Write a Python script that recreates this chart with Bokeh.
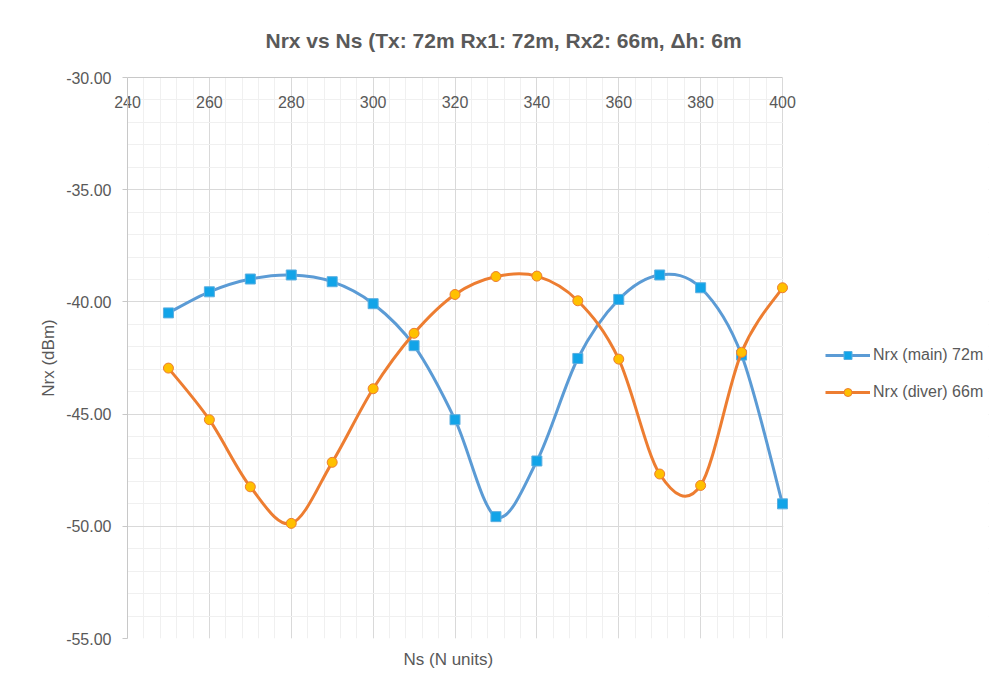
from bokeh.plotting import figure
from bokeh.models import (FixedTicker, Range1d, Legend, LegendItem,
                          Title, NumeralTickFormatter, ColumnDataSource,
                          BoxAnnotation)
from bokeh.embed import file_html
from bokeh.resources import INLINE

# ---- data ----
ns = [250, 260, 270, 280, 290, 300, 310, 320, 330, 340, 350, 360, 370, 380, 390, 400]
nrx_main = [-40.49, -39.55, -38.98, -38.80, -39.10, -40.08, -41.95, -45.25,
            -49.57, -47.09, -42.52, -39.89, -38.80, -39.37, -42.37, -49.00]
nrx_diver = [-42.95, -45.25, -48.24, -49.87, -47.15, -43.87, -41.40, -39.67,
             -38.87, -38.85, -39.95, -42.55, -47.67, -48.18, -42.25, -39.37]
x_ticks = [240, 260, 280, 300, 320, 340, 360, 380, 400]
y_ticks = [-55, -50, -45, -40, -35, -30]
x_min, x_max = 240, 400
y_min, y_max = -55, -30
title_text = "Nrx vs Ns (Tx: 72m Rx1: 72m, Rx2: 66m, \u0394h: 6m"
x_title = "Ns (N units)"
y_title = "Nrx (dBm)"
label_main = "Nrx (main) 72m"
label_diver = "Nrx (diver) 66m"

FONT = "Liberation Sans"
GRAY = "#595959"

# layout (pixels)
W, H = 990, 684
LEFT, TOP, BOTTOM = 127, 77, 46
PLOT_W = 655  # width of the 240..400 plot area
FRAME_W = W - LEFT - 2
x_view_end = x_min + (x_max - x_min) * FRAME_W / PLOT_W  # room for legend


def smooth_segments(xs, ys):
    """Bezier control points for Excel-style smoothed line (Catmull-Rom)."""
    n = len(xs)
    d = dict(x0=[], y0=[], x1=[], y1=[], cx0=[], cy0=[], cx1=[], cy1=[])
    for i in range(n - 1):
        pm = i - 1 if i > 0 else i
        pp = i + 2 if i + 2 < n else i + 1
        d["x0"].append(xs[i]); d["y0"].append(ys[i])
        d["x1"].append(xs[i + 1]); d["y1"].append(ys[i + 1])
        d["cx0"].append(xs[i] + (xs[i + 1] - xs[pm]) / 6.0)
        d["cy0"].append(ys[i] + (ys[i + 1] - ys[pm]) / 6.0)
        d["cx1"].append(xs[i + 1] - (xs[pp] - xs[i]) / 6.0)
        d["cy1"].append(ys[i + 1] - (ys[pp] - ys[i]) / 6.0)
    return ColumnDataSource(d)


p = figure(width=W, height=H, output_backend="svg", toolbar_location=None,
           x_range=Range1d(x_min, x_view_end), y_range=Range1d(y_min, y_max),
           x_axis_location="above",
           min_border_left=LEFT, min_border_top=TOP, min_border_right=2,
           min_border_bottom=BOTTOM)
p.outline_line_color = None
p.background_fill_color = "white"
p.border_fill_color = "white"

# x axis (top, labels inside plot area)
xa = p.xaxis[0]
xa.bounds = (x_min, x_max)
xa.ticker = FixedTicker(ticks=x_ticks, minor_ticks=list(range(240, 401, 4)))
xa.major_label_standoff = -30
xa.major_tick_out = 0
xa.major_tick_in = 0
xa.minor_tick_out = 0
xa.minor_tick_in = 0
xa.axis_line_color = "#c8c8c8"
xa.major_label_text_font = FONT
xa.major_label_text_font_size = "16px"
xa.major_label_text_color = GRAY

ya = p.yaxis[0]
ya.ticker = FixedTicker(ticks=y_ticks, minor_ticks=list(range(-55, -29)))
ya.formatter = NumeralTickFormatter(format="0.00")
ya.major_tick_out = 5
ya.major_tick_in = 0
ya.minor_tick_out = 0
ya.minor_tick_in = 0
ya.major_tick_line_color = "#c8c8c8"
ya.axis_line_color = "#c8c8c8"
ya.major_label_standoff = 11
ya.major_label_text_font = FONT
ya.major_label_text_font_size = "16px"
ya.major_label_text_color = GRAY
ya.axis_label = y_title
ya.axis_label_standoff = 5
ya.axis_label_text_font = FONT
ya.axis_label_text_font_size = "17px"
ya.axis_label_text_font_style = "normal"
ya.axis_label_text_color = GRAY

p.xgrid.ticker = FixedTicker(ticks=x_ticks, minor_ticks=list(range(240, 401, 4)))
p.ygrid.ticker = FixedTicker(ticks=y_ticks, minor_ticks=list(range(-55, -29)))
for g in (p.xgrid, p.ygrid):
    g.grid_line_color = "#d9d9d9"
    g.grid_line_width = 1
    g.minor_grid_line_color = "#f0f0f0"
    g.minor_grid_line_width = 1

# blank out grid to the right of the plot area (legend zone)
p.add_layout(BoxAnnotation(left=x_max + 0.2, fill_color="white", fill_alpha=1,
                           line_color=None, level="underlay"))

# series
src_main = ColumnDataSource(dict(x=ns, y=nrx_main))
src_diver = ColumnDataSource(dict(x=ns, y=nrx_diver))

b1 = p.bezier(x0="x0", y0="y0", x1="x1", y1="y1", cx0="cx0", cy0="cy0",
              cx1="cx1", cy1="cy1", source=smooth_segments(ns, nrx_main),
              line_color="#5B9BD5", line_width=3)
s1 = p.scatter("x", "y", source=src_main, marker="square", size=10,
               fill_color="#12A4E8", line_color="#5BAEE0", line_width=1)
b2 = p.bezier(x0="x0", y0="y0", x1="x1", y1="y1", cx0="cx0", cy0="cy0",
              cx1="cx1", cy1="cy1", source=smooth_segments(ns, nrx_diver),
              line_color="#ED7D31", line_width=3)
s2 = p.scatter("x", "y", source=src_diver, marker="circle", size=10,
               fill_color="#FFC000", line_color="#ED7D31", line_width=1)

legend = Legend(items=[LegendItem(label=label_main, renderers=[b1, s1]),
                       LegendItem(label=label_diver, renderers=[b2, s2])],
                location=(698, 236), glyph_width=45, glyph_height=20,
                label_height=20, spacing=17, padding=0, margin=0,
                border_line_color=None, background_fill_alpha=0,
                label_text_font=FONT, label_text_font_size="16px",
                label_text_color=GRAY, label_standoff=3)
p.add_layout(legend)

p.add_layout(Title(text=title_text, text_font=FONT, text_font_size="21px",
                   text_font_style="bold", text_color=GRAY, align="left",
                   offset=138, standoff=52), "above")

p.add_layout(Title(text=x_title, text_font=FONT, text_font_size="17px",
                   text_font_style="normal", text_color=GRAY, align="left",
                   offset=276, vertical_align="top", standoff=22), "below")

open("out.html", "w").write(file_html(p, INLINE))
